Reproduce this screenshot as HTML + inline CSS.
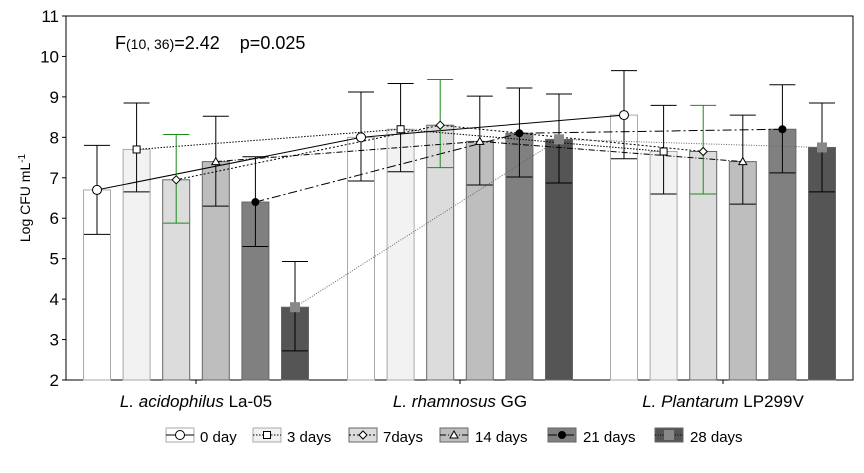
<!DOCTYPE html>
<html><head><meta charset="utf-8"><style>
body{margin:0;background:#fff;}
svg{font-family:"Liberation Sans",sans-serif;}
</style></head><body>
<svg id="c" width="864" height="468"></svg>
<script>
const groups=["L. acidophilus","L. rhamnosus","L. Plantarum"];
const groupSuffix=[" La-05"," GG"," LP299V"];
const seriesNames=["0 day","3 days","7days","14 days","21 days","28 days"];
const means=[[6.7,7.7,6.95,7.4,6.4,3.8],[8.0,8.2,8.3,7.9,8.1,7.95],[8.55,7.65,7.65,7.4,8.2,7.75]];
const upper=[[7.8,8.85,8.07,8.52,7.52,4.93],[9.12,9.33,9.43,9.02,9.22,9.07],[9.65,8.79,8.79,8.55,9.3,8.85]];
const lower=[[5.6,6.65,5.88,6.3,5.3,2.72],[6.92,7.15,7.25,6.82,7.02,6.87],[7.47,6.6,6.6,6.35,7.12,6.65]];
const yTicks=[2,3,4,5,6,7,8,9,10,11];
const NS="http://www.w3.org/2000/svg";
const svg=document.getElementById('c');
const L=66,R=853,T=16,B=380;
const y=v=>B-(v-2)*(B-T)/9;
const gc=[196,460,723];
const x=(g,s)=>gc[g]+(s-2.5)*39.6;
const fills=["#ffffff","#f2f2f2","#dcdcdc","#bebebe","#808080","#555555"];
const dashes=["","1.5,1.5","2,2","6,2,1,2","9,3,2,3","1,1.5"];
const lineCol=["#000","#000","#000","#000","#000","#666"];
function el(t,a,p){const e=document.createElementNS(NS,t);for(const k in a)e.setAttribute(k,a[k]);(p||svg).appendChild(e);return e;}
// axes
const ax=el('rect',{x:L,y:T,width:R-L,height:B-T,fill:'none',stroke:'#000','stroke-width':1});

yTicks.forEach(v=>{const t=el('line',{x1:L-4,x2:L,y1:y(v),y2:y(v),stroke:'#000'});

const tx=el('text',{x:L-7,y:y(v)+6,'text-anchor':'end','font-size':17});tx.textContent=v;
});
gc.forEach((c,g)=>{const t=el('line',{x1:c,x2:c,y1:B,y2:B+4,stroke:'#000'});

const tx=el('text',{x:c,y:B+27,'text-anchor':'middle','font-size':17});

const i=el('tspan',{'font-style':'italic'},tx);i.textContent=groups[g];
const s=el('tspan',{},tx);s.textContent=groupSuffix[g];});
const yt=el('text',{x:0,y:0,transform:'translate(30,198) rotate(-90)','text-anchor':'middle','font-size':14});

yt.innerHTML='Log CFU mL<tspan dy="-5" font-size="10">-1</tspan>';
const st=el('text',{x:115,y:49,'font-size':18});

st.innerHTML='F<tspan font-size="14">(10, 36)</tspan>=2.42 &#160;&#160; p=0.025';
// bars
for(let g=0;g<3;g++)for(let s=0;s<6;s++){
 const b=el('rect',{x:x(g,s)-13.5,y:y(means[g][s]),width:27,height:B-y(means[g][s]),fill:fills[s],stroke:s<2?'#aaa':'#666','stroke-width':1});
 
}
// lines
for(let s=0;s<6;s++){
 const pts=[0,1,2].map(g=>x(g,s)+','+y(means[g][s])).join(' ');
 const p=el('polyline',{points:pts,fill:'none',stroke:lineCol[s],'stroke-width':1,'stroke-dasharray':dashes[s]});
 
}
// error bars
for(let g=0;g<3;g++)for(let s=0;s<6;s++){
 const cx=x(g,s),c=s==2?'#1a8a1a':'#000';
 const e=el('g',{stroke:c,'stroke-width':1});
 
 el('line',{x1:cx,x2:cx,y1:y(upper[g][s]),y2:y(lower[g][s])},e);
 el('line',{x1:cx-13,x2:cx+13,y1:y(upper[g][s]),y2:y(upper[g][s])},e);
 el('line',{x1:cx-13,x2:cx+13,y1:y(lower[g][s]),y2:y(lower[g][s])},e);
}
function marker(s,cx,cy,parent){
 let m;
 if(s==0)m=el('circle',{cx,cy,r:4.5,fill:'#fff',stroke:'#000'},parent);
 else if(s==1)m=el('rect',{x:cx-3.5,y:cy-3.5,width:7,height:7,fill:'#fff',stroke:'#000'},parent);
 else if(s==2)m=el('polygon',{points:`${cx},${cy-4} ${cx+4},${cy} ${cx},${cy+4} ${cx-4},${cy}`,fill:'#fff',stroke:'#000'},parent);
 else if(s==3)m=el('polygon',{points:`${cx},${cy-4} ${cx+4},${cy+3} ${cx-4},${cy+3}`,fill:'#fff',stroke:'#000'},parent);
 else if(s==4)m=el('circle',{cx,cy,r:4,fill:'#000'},parent);
 else m=el('rect',{x:cx-5,y:cy-5,width:10,height:10,fill:'#888'},parent);
 return m;
}
for(let g=0;g<3;g++)for(let s=0;s<6;s++){
 const m=marker(s,x(g,s),y(means[g][s]));
 
}
// legend
const lx=[166,253,349,440,548,655],tx=[200,287,383,475,583,690];
for(let s=0;s<6;s++){
 const lg=el('g',{});
 
 el('rect',{x:lx[s],y:428,width:28,height:14,fill:fills[s],stroke:s<2?'#aaa':'#666'},lg);
 el('line',{x1:lx[s],x2:lx[s]+28,y1:435,y2:435,stroke:'#000','stroke-dasharray':dashes[s]},lg);
 marker(s,lx[s]+14,435,lg);
 const t=el('text',{x:tx[s],y:442,'font-size':15},lg);t.textContent=seriesNames[s];
}
</script>
</body></html>
